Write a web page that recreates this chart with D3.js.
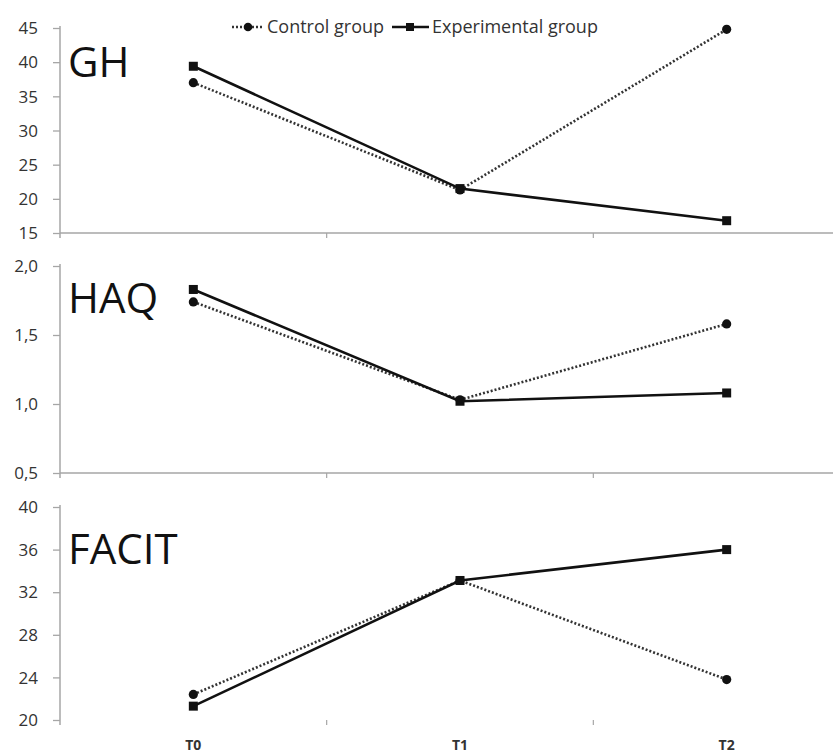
<!DOCTYPE html>
<html>
<head>
<meta charset="utf-8">
<script src="https://cdn.jsdelivr.net/npm/d3@7/dist/d3.min.js"></script>
<style>
  html, body { margin: 0; padding: 0; background: #fff; }
  svg { display: block; }
</style>
</head>
<body>
<svg id="chart" width="833" height="756"></svg>
<script>
// ---- data ----
const timepoints = ["T0", "T1", "T2"];
const seriesNames = ["Control group", "Experimental group"];

const ghControl = [37.0, 21.3, 44.8];
const ghExperimental = [39.4, 21.5, 16.8];
const haqControl = [1.74, 1.03, 1.58];
const haqExperimental = [1.83, 1.02, 1.08];
const facitControl = [22.4, 33.1, 23.8];
const facitExperimental = [21.3, 33.1, 36.0];

const ghTicks = [15, 20, 25, 30, 35, 40, 45];
const haqTicks = [0.5, 1.0, 1.5, 2.0];
const facitTicks = [20, 24, 28, 32, 36, 40];

const panelTitles = ["GH", "HAQ", "FACIT"];

// ---- layout ----
const svg = d3.select("#chart");
const W = 833;
const xLeft = 60, xRight = 860;
const x = d3.scaleBand().domain(timepoints).range([xLeft, xRight]).paddingInner(0).paddingOuter(0);
const xc = d => x(d) + x.bandwidth() / 2;

const locale = d3.formatLocale({decimal: ",", thousands: ".", grouping: [3], currency: ["", ""]});

const panels = [
  {title: panelTitles[0], control: ghControl, exp: ghExperimental, ticks: ghTicks,
   range: [233, 28], fmt: d3.format("d"), xAxis: true, titleY: 77},
  {title: panelTitles[1], control: haqControl, exp: haqExperimental, ticks: haqTicks,
   range: [473, 266], fmt: locale.format(".1f"), xAxis: true, titleY: 313},
  {title: panelTitles[2], control: facitControl, exp: facitExperimental, ticks: facitTicks,
   range: [720, 507], fmt: d3.format("d"), xAxis: false, titleY: 564}
];

const axisColor = "#a6a6a6";
const textColor = "#333";
const font = "'Open Sans', 'Noto Sans', sans-serif";

panels.forEach(p => {
  const y = d3.scaleLinear().domain(d3.extent(p.ticks)).range(p.range);
  const g = svg.append("g");

  // y axis
  const yAxis = d3.axisLeft(y).tickValues(p.ticks).tickFormat(p.fmt).tickSize(7).tickPadding(15);
  const ga = g.append("g").attr("transform", `translate(${xLeft},0)`).call(yAxis);
  ga.select(".domain").remove();
  ga.selectAll(".tick line").attr("stroke", axisColor).attr("stroke-width", 1.3);
  ga.selectAll(".tick text").attr("fill", textColor).attr("font-family", font)
    .attr("font-size", 17).attr("dy", "0.34em");
  g.append("line").attr("x1", xLeft).attr("x2", xLeft)
    .attr("y1", p.range[1] - 2).attr("y2", p.range[0] + 5)
    .attr("stroke", axisColor).attr("stroke-width", 1.5);

  // x axis
  const baseY = p.range[0];
  if (p.xAxis) {
    g.append("line").attr("x1", xLeft).attr("x2", W).attr("y1", baseY).attr("y2", baseY)
      .attr("stroke", axisColor).attr("stroke-width", 1.5);
  }
  const bounds = timepoints.slice(1).map(t => x(t));
  g.selectAll(".xt").data(bounds).enter().append("line")
    .attr("x1", d => d).attr("x2", d => d).attr("y1", baseY).attr("y2", baseY + 5)
    .attr("stroke", axisColor).attr("stroke-width", 1.2);

  // title
  g.append("text").attr("x", 68).attr("y", p.titleY).text(p.title)
    .attr("font-family", font).attr("font-size", 42).attr("fill", "#111");

  // lines
  const line = d3.line().x((d, i) => xc(timepoints[i])).y(d => y(d));
  g.append("path").datum(p.control).attr("d", line).attr("fill", "none")
    .attr("stroke", "#333").attr("stroke-width", 2.6).attr("stroke-dasharray", "2,2");
  g.append("path").datum(p.exp).attr("d", line).attr("fill", "none")
    .attr("stroke", "#111").attr("stroke-width", 2.6);

  g.selectAll(".mc").data(p.control).enter().append("circle")
    .attr("cx", (d, i) => xc(timepoints[i])).attr("cy", d => y(d)).attr("r", 4.6).attr("fill", "#111");
  g.selectAll(".ms").data(p.exp).enter().append("rect")
    .attr("x", (d, i) => xc(timepoints[i]) - 4.5).attr("y", d => y(d) - 4.5)
    .attr("width", 9).attr("height", 9).attr("fill", "#111");
});

// x labels
svg.selectAll(".xl").data(timepoints).enter().append("text")
  .attr("x", d => xc(d)).attr("y", 750).attr("text-anchor", "middle")
  .attr("font-family", font).attr("font-size", 14).attr("font-weight", "bold")
  .attr("fill", textColor).text(d => d);

// legend
const lg = svg.append("g");
const ly = 27;
lg.append("line").attr("x1", 232).attr("x2", 264).attr("y1", ly).attr("y2", ly)
  .attr("stroke", "#333").attr("stroke-width", 2.4).attr("stroke-dasharray", "2,2");
lg.append("circle").attr("cx", 248).attr("cy", ly).attr("r", 4.3).attr("fill", "#111");
lg.append("text").attr("x", 267).attr("y", ly).attr("dy", "0.35em").text(seriesNames[0])
  .attr("font-family", font).attr("font-size", 18).attr("fill", textColor);
lg.append("line").attr("x1", 392).attr("x2", 429).attr("y1", ly).attr("y2", ly)
  .attr("stroke", "#111").attr("stroke-width", 2.6);
lg.append("rect").attr("x", 406).attr("y", ly - 4).attr("width", 8).attr("height", 8).attr("fill", "#111");
lg.append("text").attr("x", 432).attr("y", ly).attr("dy", "0.35em").text(seriesNames[1])
  .attr("font-family", font).attr("font-size", 18).attr("fill", textColor);
</script>
</body>
</html>
